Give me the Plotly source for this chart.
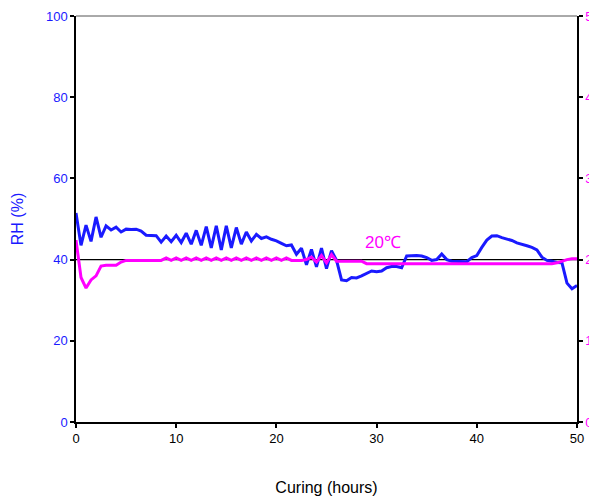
import plotly.graph_objects as go

hours = [i * 0.5 for i in range(101)]

rh = [51.5, 43.5, 48.5, 44.5, 50.5, 45.5, 48.3, 47.3, 48.0, 46.8,
      47.5, 47.4, 47.5, 47.0, 46.0, 46.0, 45.9, 44.3, 45.8, 44.4,
      46.0, 44.2, 46.5, 43.8, 47.2, 43.5, 48.1, 42.9, 48.3, 42.4,
      48.3, 42.9, 47.9, 43.8, 46.8, 44.6, 46.2, 45.2, 45.6, 45.0,
      44.6, 44.0, 43.4, 43.6, 41.3, 42.8, 38.7, 42.5, 38.2, 42.8,
      37.8, 42.2, 39.8, 35.0, 34.8, 35.6, 35.5, 36.0, 36.6, 37.2,
      37.0, 37.2, 38.0, 38.3, 38.3, 38.0, 40.9, 41.0, 41.0, 40.9,
      40.5, 39.8, 40.0, 41.4, 40.0, 39.6, 39.6, 39.5, 39.5, 40.5,
      41.0, 43.0, 44.8, 45.8, 45.9, 45.4, 45.1, 44.7, 44.1, 43.8,
      43.4, 43.0, 42.4, 40.6, 39.8, 39.6, 39.3, 39.2, 34.2, 32.8,
      33.6]

temp = [22.4, 17.8, 16.5, 17.5, 18.0, 19.2, 19.3, 19.3, 19.3, 19.7,
        19.9, 19.9, 19.9, 19.9, 19.9, 19.9, 19.9, 19.9, 20.2, 19.9,
        20.2, 19.9, 20.2, 19.9, 20.2, 19.9, 20.2, 19.9, 20.2, 19.9,
        20.2, 19.9, 20.2, 19.9, 20.2, 19.9, 20.2, 19.9, 20.2, 19.9,
        20.2, 19.9, 20.2, 19.9, 19.9, 19.9, 20.0, 20.3, 19.7, 20.5,
        19.6, 20.6, 19.8, 19.8, 19.8, 19.8, 19.8, 19.8, 19.5, 19.5,
        19.5, 19.5, 19.5, 19.5, 19.5, 19.5, 19.5, 19.5, 19.5, 19.5,
        19.5, 19.5, 19.5, 19.5, 19.5, 19.5, 19.5, 19.5, 19.5, 19.5,
        19.5, 19.5, 19.5, 19.5, 19.5, 19.5, 19.5, 19.5, 19.5, 19.5,
        19.5, 19.5, 19.5, 19.5, 19.5, 19.5, 19.6, 19.8, 20.0, 20.1,
        20.1]

x_ticks = [0, 10, 20, 30, 40, 50]
rh_ticks = [0, 20, 40, 60, 80, 100]
t_ticks = [0, 10, 20, 30, 40, 50]

BLUE = "#1a1aff"
MAG = "#ff00ff"
FONT = "Liberation Sans, Arial, sans-serif"

fig = go.Figure()
fig.add_trace(go.Scatter(x=hours, y=temp, mode="lines", yaxis="y2",
                         line=dict(color=MAG, width=3), showlegend=False))
fig.add_trace(go.Scatter(x=hours, y=rh, mode="lines",
                         line=dict(color=BLUE, width=3), showlegend=False))

fig.add_shape(type="line", xref="x", yref="y", x0=0, x1=50, y0=40, y1=40,
              line=dict(color="black", width=1.2), layer="below")

fig.add_annotation(x=30.6, y=44.2, xref="x", yref="y", text="20\u2103",
                   showarrow=False, font=dict(color=MAG, size=17, family=FONT))

fig.update_layout(
    width=589, height=503,
    margin=dict(l=76, r=12, t=16, b=81, autoexpand=False),
    paper_bgcolor="white", plot_bgcolor="white",
    font=dict(family=FONT, size=13, color="black"),
    xaxis=dict(range=[0, 50], tickvals=x_ticks, ticks="outside", ticklen=4,
               tickcolor="black", tickwidth=2, showgrid=False, zeroline=False,
               showline=True, linecolor="black", linewidth=1.5, automargin=False,
               tickfont=dict(size=13, color="black"),
               title=dict(text="Curing (hours)", font=dict(size=16, color="black"),
                          standoff=36)),
    yaxis=dict(range=[0, 100], tickvals=rh_ticks, ticks="outside", ticklen=4,
               tickcolor="black", tickwidth=2, showgrid=False, zeroline=False,
               showline=True, linecolor="black", linewidth=1.5, automargin=False,
               tickfont=dict(size=13, color=BLUE),
               title=dict(text="RH (%)", font=dict(size=16, color=BLUE), standoff=18)),
    yaxis2=dict(range=[0, 50], tickvals=t_ticks, ticks="outside", ticklen=4,
                tickcolor="black", tickwidth=2, overlaying="y", side="right",
                showgrid=False, zeroline=False, showline=True, automargin=False,
                linecolor="black", linewidth=1.5,
                tickfont=dict(size=13, color=MAG)),
)

fig.add_shape(type="line", xref="paper", yref="paper", x0=0, x1=1, y0=1, y1=1,
              line=dict(color="#555555", width=1))

fig.write_html("out.html")
